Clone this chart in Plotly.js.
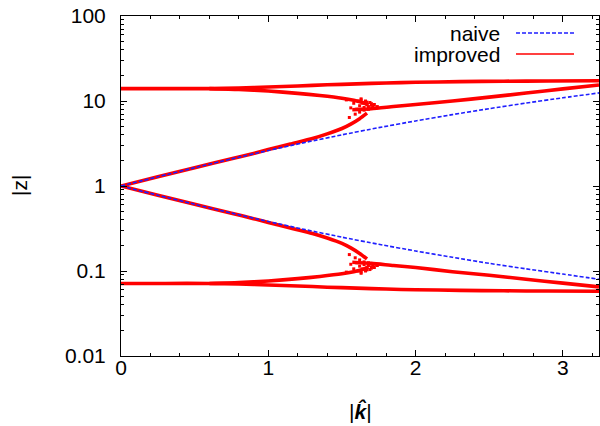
<!DOCTYPE html>
<html>
<head>
<meta charset="utf-8">
<script src="https://cdn.plot.ly/plotly-3.0.1.min.js"></script>
<style>html,body{margin:0;padding:0;background:#fff;}#chart{width:600px;height:426px;}</style>
</head>
<body>
<div id="chart"></div>
<script>
// ---- data ----
const naiveK     = [0, 0.25, 0.5, 0.75, 1, 1.25, 1.5, 1.75, 2, 2.25, 2.5, 2.75, 3, 3.245];
const naiveUpper = [1, 1.283, 1.640, 2.082, 2.618, 3.255, 4.0, 4.857, 5.828, 6.918, 8.127, 9.457, 10.91, 12.45];
const naiveLower = [1, 0.779, 0.610, 0.480, 0.382, 0.307, 0.250, 0.206, 0.172, 0.145, 0.123, 0.106, 0.092, 0.080];

// improved: outer band
const outerK     = [0, 0.3, 0.6, 0.8, 1.0, 1.2, 1.4, 1.6, 1.8, 2.0, 2.3, 2.6, 2.9, 3.245];
const outerUpper = [14.0, 14.0, 14.0, 14.2, 14.6, 15.0, 15.5, 15.9, 16.3, 16.6, 16.9, 17.1, 17.2, 17.3];
const outerLower = [0.0714, 0.0714, 0.0714, 0.0704, 0.0685, 0.0667, 0.0645, 0.0629, 0.0613, 0.0602, 0.0592, 0.0585, 0.0581, 0.0578];

// improved: branch leaving the outer band towards the centre
const bendK      = [0.6, 0.8, 1.0, 1.2, 1.35, 1.5, 1.58, 1.64, 1.68];
const bendUpper  = [14.0, 13.7, 13.1, 12.3, 11.6, 10.8, 10.2, 9.6, 9.0];
const bendLower  = [0.0714, 0.0730, 0.0763, 0.0813, 0.0862, 0.0926, 0.0980, 0.1042, 0.1111];

// improved: branch starting at |z| = 1
const innerK     = [0, 0.25, 0.5, 0.75, 0.9, 1.0, 1.15, 1.3, 1.4, 1.5, 1.56, 1.62, 1.67];
const innerUpper = [1, 1.283, 1.640, 2.09, 2.42, 2.68, 3.12, 3.62, 4.1, 4.75, 5.35, 6.2, 7.2];
const innerLower = [1, 0.779, 0.610, 0.478, 0.413, 0.373, 0.321, 0.276, 0.244, 0.211, 0.187, 0.161, 0.139];

// improved: merged branch after the crossing
const mergedK     = [1.57, 1.7, 1.85, 2.0, 2.25, 2.5, 2.75, 3.0, 3.245];
const mergedUpper = [7.9, 8.1, 8.6, 9.1, 10.0, 11.1, 12.4, 13.9, 15.4];
const mergedLower = [0.127, 0.123, 0.116, 0.110, 0.098, 0.089, 0.080, 0.072, 0.065];

// improved: scattered points in the crossing region
const cloudK     = [1.53, 1.56, 1.58, 1.60, 1.61, 1.62, 1.63, 1.64, 1.65, 1.66, 1.67, 1.68, 1.69, 1.70, 1.71, 1.72, 1.73, 1.74, 1.62, 1.65, 1.68, 1.59, 1.63, 1.67, 1.55, 1.70];
const cloudUpper = [10.3, 8.3, 9.4, 8.0, 10.0, 8.8, 10.3, 9.4, 8.4, 10.0, 9.0, 8.6, 9.6, 8.9, 8.5, 9.1, 8.3, 8.6, 7.4, 7.8, 8.0, 7.0, 10.6, 9.7, 6.4, 9.3];
const cloudLower = [0.097, 0.120, 0.106, 0.125, 0.100, 0.114, 0.097, 0.106, 0.119, 0.100, 0.111, 0.116, 0.104, 0.112, 0.118, 0.110, 0.120, 0.116, 0.135, 0.128, 0.125, 0.143, 0.094, 0.103, 0.156, 0.108];

const xTickVals = [0, 1, 2, 3];
const xTickText = ['0', '1', '2', '3'];
const yTickVals = [0.01, 0.1, 1, 10, 100];
const yTickText = ['0.01', '0.1', '1', '10', '100'];

const RED = '#ff0000';
const BLUE = '#1f1fff';
const FONT = 'Liberation Sans, Arial, sans-serif';

function redLine(x, y) {
  return {x: x, y: y, type: 'scatter', mode: 'lines', showlegend: false,
          line: {color: RED, width: 3.6, shape: 'spline', smoothing: 0.6}, hoverinfo: 'skip'};
}
function redPts(x, y) {
  return {x: x, y: y, type: 'scatter', mode: 'markers', showlegend: false,
          marker: {color: RED, size: 3, symbol: 'square'}, hoverinfo: 'skip'};
}

const traces = [
  redLine(outerK, outerUpper), redLine(outerK, outerLower),
  redLine(bendK, bendUpper), redLine(bendK, bendLower),
  redLine(innerK, innerUpper), redLine(innerK, innerLower),
  redLine(mergedK, mergedUpper), redLine(mergedK, mergedLower),
  redPts(cloudK, cloudUpper), redPts(cloudK, cloudLower),
  {x: naiveK, y: naiveUpper, type: 'scatter', mode: 'lines', name: 'naive', showlegend: false,
   line: {color: BLUE, width: 1.6, dash: '4px,2px', shape: 'spline', smoothing: 0.6}},
  {x: naiveK, y: naiveLower, type: 'scatter', mode: 'lines', showlegend: false,
   line: {color: BLUE, width: 1.6, dash: '4px,2px', shape: 'spline', smoothing: 0.6}}
];

const L = 121, R = 599, T = 16, B = 356;
const px = v => (v - L) / (R - L);
const py = v => (B - v) / (B - T);

const layout = {
  width: 600, height: 426,
  margin: {l: L, r: 600 - R, t: T, b: 426 - B},
  paper_bgcolor: '#fff', plot_bgcolor: '#fff',
  font: {family: FONT, size: 21, color: '#000'},
  showlegend: false,
  xaxis: {
    range: [0, 3.245], tickmode: 'array', tickvals: xTickVals, ticktext: xTickText,
    ticks: 'inside', ticklen: 6, tickcolor: '#000', tickwidth: 1,
    minor: {dtick: 0.2, ticks: 'inside', ticklen: 3, tickcolor: '#000'},
    showline: true, linecolor: '#000', linewidth: 1, mirror: 'ticks',
    showgrid: false, zeroline: false, ticklabelstandoff: -7,
    tickfont: {family: FONT, size: 21, color: '#000'}
  },
  yaxis: {
    type: 'log', range: [-2, 2], tickmode: 'array', tickvals: yTickVals, ticktext: yTickText,
    ticks: 'inside', ticklen: 6, tickcolor: '#000', tickwidth: 1,
    minor: {dtick: 'D1', ticks: 'inside', ticklen: 3, tickcolor: '#000'},
    showline: true, linecolor: '#000', linewidth: 1, mirror: 'ticks',
    showgrid: false, zeroline: false, ticklabelstandoff: 10,
    tickfont: {family: FONT, size: 21, color: '#000'}
  },
  annotations: [
    {text: '|z|', xref: 'paper', yref: 'paper', x: px(19), y: 0.5, textangle: -90,
     showarrow: false, xanchor: 'center', yanchor: 'middle', font: {family: FONT, size: 21}},
    {text: '|<b><i>k\u0302</i></b>|', xref: 'paper', yref: 'paper', x: 0.5, y: py(411),
     showarrow: false, xanchor: 'center', yanchor: 'middle', font: {family: FONT, size: 21}},
    {text: 'naive', xref: 'paper', yref: 'paper', x: px(502), y: py(33),
     showarrow: false, xanchor: 'right', yanchor: 'middle', font: {family: FONT, size: 21}},
    {text: 'improved', xref: 'paper', yref: 'paper', x: px(502), y: py(54),
     showarrow: false, xanchor: 'right', yanchor: 'middle', font: {family: FONT, size: 21}}
  ],
  shapes: [
    {type: 'line', xref: 'paper', yref: 'paper', x0: px(516), x1: px(574), y0: py(33), y1: py(33),
     line: {color: BLUE, width: 1.6, dash: '4px,2px'}},
    {type: 'line', xref: 'paper', yref: 'paper', x0: px(516), x1: px(574), y0: py(54), y1: py(54),
     line: {color: RED, width: 1.6}}
  ]
};

Plotly.newPlot('chart', traces, layout, {staticPlot: true, displayModeBar: false});
</script>
</body>
</html>
